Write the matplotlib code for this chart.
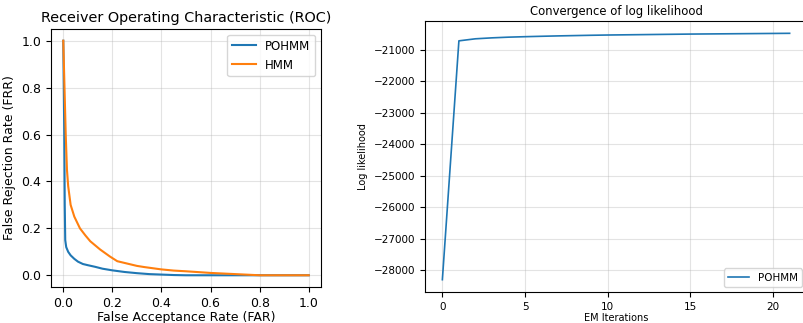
import matplotlib
matplotlib.use("Agg")
import matplotlib.pyplot as plt

# ROC data
pohmm_far = [0.0, 0.004, 0.006, 0.008, 0.012, 0.02, 0.03, 0.045, 0.06, 0.08, 0.1, 0.13, 0.16, 0.2, 0.25, 0.3, 0.35, 0.4, 0.45, 0.5, 0.6, 0.8, 1.0]
pohmm_frr = [1.0, 0.6, 0.3, 0.15, 0.12, 0.1, 0.085, 0.07, 0.058, 0.048, 0.043, 0.036, 0.028, 0.021, 0.014, 0.009, 0.005, 0.003, 0.001, 0.0, 0.0, 0.0, 0.0]
hmm_far = [0.0, 0.005, 0.01, 0.015, 0.02, 0.03, 0.045, 0.068, 0.09, 0.11, 0.15, 0.19, 0.22, 0.26, 0.3, 0.33, 0.4, 0.45, 0.5, 0.6, 0.7, 0.8, 1.0]
hmm_frr = [1.0, 0.8, 0.6, 0.45, 0.38, 0.3, 0.25, 0.2, 0.17, 0.145, 0.11, 0.08, 0.06, 0.05, 0.04, 0.035, 0.025, 0.02, 0.017, 0.01, 0.005, 0.0, 0.0]

# Log likelihood convergence
iterations = list(range(22))
loglik = [-28300, -20715, -20650, -20620, -20598, -20583, -20570, -20558, -20548, -20538, -20530,
          -20524, -20518, -20512, -20506, -20500, -20496, -20492, -20488, -20484, -20480, -20476]

fig = plt.figure(figsize=(8.04, 3.23), dpi=100)

ax1 = fig.add_axes([51/804, 36/323, 270/804, 258/323])
ax1.plot(pohmm_far, pohmm_frr, color='#1f77b4', label='POHMM')
ax1.plot(hmm_far, hmm_frr, color='#ff7f0e', label='HMM')
ax1.set_title('Receiver Operating Characteristic (ROC)', fontsize=10.4, pad=5)
ax1.set_xlabel('False Acceptance Rate (FAR)', fontsize=9, labelpad=1)
ax1.set_ylabel('False Rejection Rate (FRR)', fontsize=9)
ax1.tick_params(labelsize=9)
ax1.set_xticks([0, 0.2, 0.4, 0.6, 0.8, 1.0])
ax1.set_yticks([0, 0.2, 0.4, 0.6, 0.8, 1.0])
ax1.grid(True, alpha=0.35)
ax1.legend(loc='upper right', fontsize=8.5)

ax2 = fig.add_axes([425/804, 31/323, 382/804, 271/323])
ax2.plot(iterations, loglik, color='#1f77b4', lw=1.2, label='POHMM')
ax2.set_title('Convergence of log likelihood', fontsize=8.4, pad=4)
ax2.set_xlabel('EM Iterations', fontsize=7, labelpad=1)
ax2.set_ylabel('Log likelihood', fontsize=7)
ax2.tick_params(labelsize=7.5)
ax2.set_xticks([0, 5, 10, 15, 20])
ax2.grid(True, alpha=0.35)
ax2.legend(loc='lower right', fontsize=7.5)

fig.savefig('out.png', dpi=100)
